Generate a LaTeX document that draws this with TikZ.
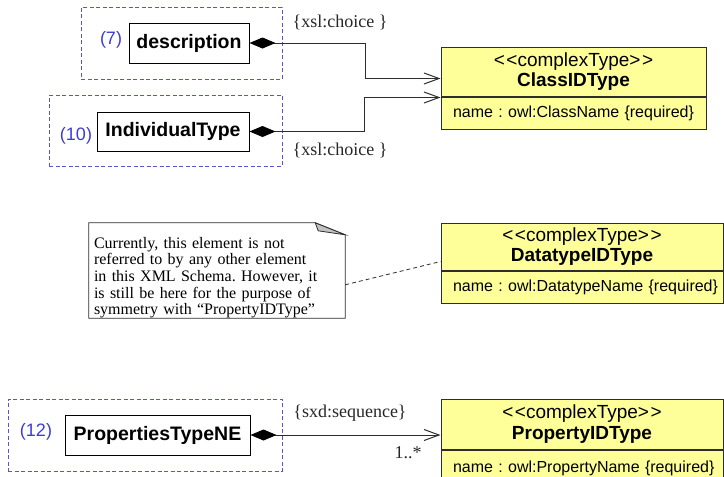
\documentclass[tikz,border=0pt]{standalone}
\usepackage{fontspec}
\setmainfont{Liberation Serif}
\newfontfamily\umlsans{Liberation Sans}
\usetikzlibrary{arrows.meta,calc}
\definecolor{umlyellow}{RGB}{255,255,153}
\definecolor{grpblue}{RGB}{85,85,215}
\definecolor{lblblue}{RGB}{60,60,215}
\definecolor{linegray}{RGB}{45,45,45}
\definecolor{foldgray}{RGB}{195,195,195}
\newcommand{\stereo}{\textless\kern1.5pt\textless complexType\textgreater\kern1.5pt\textgreater}
\begin{document}
\frenchspacing
\begin{tikzpicture}[x=1pt,y=-1pt,
  grp/.style={draw=grpblue, dash pattern=on 4pt off 2.5pt, line width=0.8pt, inner sep=0pt},
  elem/.style={draw=black, line width=1pt, fill=white, inner sep=0pt, font=\umlsans\bfseries\fontsize{19.5}{22}\selectfont},
  lbl/.style={text=lblblue, inner sep=0pt, font=\umlsans\fontsize{18}{20}\selectfont},
  hdr/.style={draw=linegray, line width=1pt, fill=umlyellow, inner sep=0pt, align=center, font=\umlsans\fontsize{19}{20.5}\selectfont},
  attr/.style={draw=linegray, line width=1pt, fill=umlyellow, inner xsep=12pt, inner ysep=0pt, align=left, font=\umlsans\fontsize{16}{18}\selectfont},
  tag/.style={inner sep=0pt, text=black!85, font=\fontsize{18}{20}\selectfont},
  comp/.style={draw=linegray, line width=1pt, {Diamond[length=26pt,width=11pt,fill=black,color=black]}-{Straight Barb[length=15pt,width=11pt]}},
  notelink/.style={draw=linegray, line width=0.8pt, dash pattern=on 4pt off 3pt}
]
\useasboundingbox (0,0) rectangle (724,477);

% dashed groups
\node[grp, minimum width=201pt, minimum height=72pt] (g1) at (181.5,43) {};
\node[grp, minimum width=233pt, minimum height=71pt] (g2) at (165.5,130.5) {};
\node[grp, minimum width=274pt, minimum height=72pt] (g3) at (145,435) {};

% elements
\node[elem, minimum width=120pt, minimum height=40pt] (d1) at (189,43) {description};
\node[elem, minimum width=152pt, minimum height=39pt] (d2) at (173,131.5) {IndividualType};
\node[elem, minimum width=185pt, minimum height=40pt] (d3) at (157.5,435) {PropertiesTypeNE};

% numbers
\node[lbl] (n1) at (111,40) {(7)};
\node[lbl] (n2) at (76,136) {(10)};
\node[lbl] (n3) at (36,432) {(12)};

% UML classes
\node[hdr, minimum width=265pt, minimum height=49pt] (cls) at (573.5,71.5)
  {\stereo\\\textbf{ClassIDType}};
\node[attr, text width=241pt, minimum height=32pt, anchor=north] (clsattr) at (cls.south)
  {\mbox{name : owl:ClassName \{required\}}};

\node[hdr, minimum width=282pt, minimum height=47pt] (dt) at (582,246.5)
  {\stereo\\\textbf{DatatypeIDType}};
\node[attr, text width=258pt, minimum height=32pt, anchor=north] (dtattr) at (dt.south)
  {\mbox{name : owl:DatatypeName \{required\}}};

\node[hdr, minimum width=282pt, minimum height=50pt] (pr) at (582,424)
  {\stereo\\\textbf{PropertyIDType}};
\node[attr, text width=258pt, minimum height=36pt, anchor=north] (prattr) at (pr.south)
  {\mbox{name : owl:PropertyName \{required\}}};

% connector end points
\coordinate (e1) at ($(cls.north west)+(0,32)$);
\coordinate (e2) at ($(cls.north west)+(0,51)$);

% connectors
\draw[comp] (d1.east) -| ($(e1)+(-75,0)$) -- (e1);
\draw[comp] (d2.east) -| ($(e2)+(-76,0)$) -- (e2);
\draw[comp] (d3.east) -- (d3.east -| pr.west);

% connector labels
\node[tag] (t1) at (340,22) {\{xsl:choice \}};
\node[tag] (t2) at (340,150) {\{xsl:choice \}};
\node[tag] (t3) at (350,413) {\{sxd:sequence\}};
\node[tag] (t4) at (408,453) {1..*};

% note
\node[minimum width=256pt, minimum height=95pt, inner sep=0pt] (note) at (217,270.5) {};
\draw[linegray, line width=0.8pt, fill=white]
  (note.north west) -- ($(note.north east)+(-30,0)$) -- ($(note.north east)+(0,12)$)
  -- (note.south east) -- (note.south west) -- cycle;
\draw[linegray, line width=0.8pt, fill=foldgray]
  ($(note.north east)+(-30,0)$) -- ($(note.north east)+(0,12)$) -- ($(note.north east)+(-27,8)$) -- cycle;
\node[anchor=north west, inner sep=0pt, text width=250pt, align=left,
      font=\fontsize{16}{16.7}\selectfont] (notetext) at ($(note.north west)+(5,14)$)
  {Currently, this element is not\\
   referred to by any other element\\
   in this XML Schema. However, it\\
   is still be here for the purpose of\\
   symmetry with “PropertyIDType”};
\draw[notelink] ($(note.north east)+(0,62)$) -- ($(dt.north west)+(0,39)$);
\end{tikzpicture}
\end{document}
